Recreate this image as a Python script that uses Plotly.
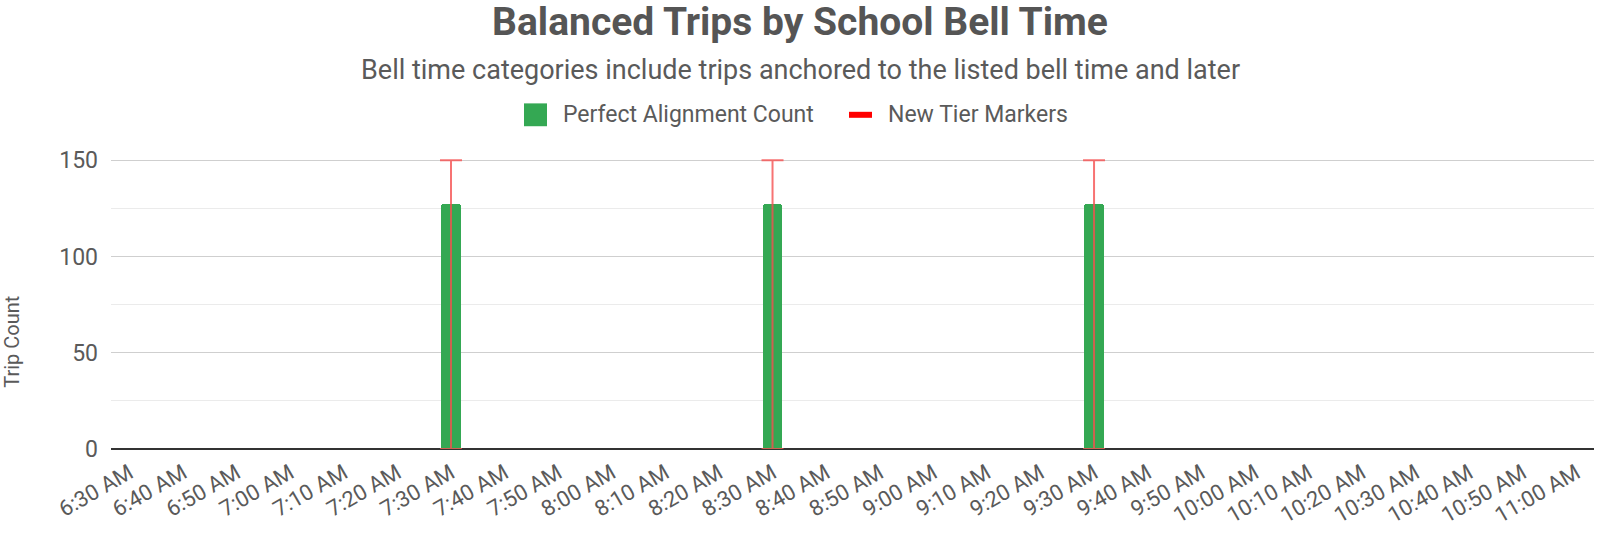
import plotly.graph_objects as go

bell_times = ["6:30 AM", "6:40 AM", "6:50 AM", "7:00 AM", "7:10 AM", "7:20 AM",
              "7:30 AM", "7:40 AM", "7:50 AM", "8:00 AM", "8:10 AM", "8:20 AM",
              "8:30 AM", "8:40 AM", "8:50 AM", "9:00 AM", "9:10 AM", "9:20 AM",
              "9:30 AM", "9:40 AM", "9:50 AM", "10:00 AM", "10:10 AM", "10:20 AM",
              "10:30 AM", "10:40 AM", "10:50 AM", "11:00 AM"]
perfect_alignment = [0, 0, 0, 0, 0, 0, 127, 0, 0, 0, 0, 0, 127, 0, 0, 0, 0, 0,
                     127, 0, 0, 0, 0, 0, 0, 0, 0, 0]
tier_times = ["7:30 AM", "8:30 AM", "9:30 AM"]
tier_marker_height = [150, 150, 150]
series_names = ["Perfect Alignment Count", "New Tier Markers"]

FONT = "Roboto"
TXT = "#5a5a5a"
GREEN = "#34a853"
RED = "#ff0000"
W, H = 1600, 534
ML, MR, MT, MB = 111, 6, 159, 83
PW, PH = W - ML - MR, H - MT - MB


def py(page_y):
    return (H - MB - page_y) / PH


def px(page_x):
    return (page_x - ML) / PW


fig = go.Figure()
fig.add_trace(go.Bar(
    x=bell_times, y=perfect_alignment, name=series_names[0],
    width=0.36,
    marker=dict(color=GREEN, line=dict(width=0), cornerradius=3),
    showlegend=False,
))
fig.add_trace(go.Scatter(
    x=tier_times, y=[0] * len(tier_times), mode="markers", name=series_names[1],
    marker=dict(size=1, opacity=0),
    error_y=dict(type="data", symmetric=False, array=tier_marker_height,
                 arrayminus=[0] * len(tier_times),
                 color="rgba(245,80,80,0.8)", thickness=2, width=11),
    showlegend=False, hoverinfo="skip",
))

# hand-drawn legend (larger symbols than plotly's legend allows)
LEG_Y = 114.5
shapes = [
    dict(type="rect", xref="paper", yref="paper",
         x0=px(524), x1=px(547), y0=py(103), y1=py(126),
         fillcolor=GREEN, line=dict(width=0), layer="above"),
    dict(type="line", xref="paper", yref="paper",
         x0=px(849), x1=px(872), y0=py(LEG_Y), y1=py(LEG_Y),
         line=dict(color=RED, width=6)),
]
annotations = [
    dict(text=series_names[0], x=px(561), xref="paper", xanchor="left",
         y=py(LEG_Y), yref="paper", yanchor="middle", showarrow=False,
         font=dict(size=23, color=TXT, family=FONT)),
    dict(text=series_names[1], x=px(886), xref="paper", xanchor="left",
         y=py(LEG_Y), yref="paper", yanchor="middle", showarrow=False,
         font=dict(size=23, color=TXT, family=FONT)),
    dict(text="Bell time categories include trips anchored to the listed bell time and later",
         x=px(800), xref="paper", xanchor="center",
         y=py(69), yref="paper", yanchor="middle",
         showarrow=False, font=dict(size=27, color=TXT, family=FONT)),
    dict(text="Trip Count", textangle=-90,
         x=px(12), xref="paper", xanchor="center",
         y=py(343), yref="paper", yanchor="middle",
         showarrow=False, font=dict(size=20, color=TXT, family=FONT)),
]

fig.update_layout(
    width=W, height=H,
    paper_bgcolor="white", plot_bgcolor="white",
    margin=dict(l=ML, r=MR, t=MT, b=MB),
    font=dict(family=FONT, color=TXT, size=20),
    title=dict(text="<b>Balanced Trips by School Bell Time</b>",
               x=800 / W, xref="container", xanchor="center",
               y=1 - 21 / H, yref="container", yanchor="middle",
               font=dict(size=39, color="#555555", family=FONT)),
    shapes=shapes,
    annotations=annotations,
    bargap=0,
    showlegend=False,
)
fig.update_xaxes(type="category", range=[-0.345, 27.33], tickangle=-30,
                 showgrid=False, showline=False, ticks="",
                 ticklabelstandoff=6,
                 tickfont=dict(size=22, color=TXT), fixedrange=True)
fig.update_yaxes(range=[0, 150.6], tickvals=[0, 50, 100, 150],
                 showgrid=True, gridcolor="#cfcfcf", gridwidth=1,
                 minor=dict(tickvals=[25, 75, 125], showgrid=True, gridcolor="#ebebeb"),
                 zeroline=True, zerolinecolor="#333333", zerolinewidth=2,
                 ticklabelstandoff=12,
                 tickfont=dict(size=23, color=TXT))

fig.write_html("out.html", config={"displayModeBar": False},
               post_script="document.body.style.margin='0';document.body.style.overflow='hidden';")
